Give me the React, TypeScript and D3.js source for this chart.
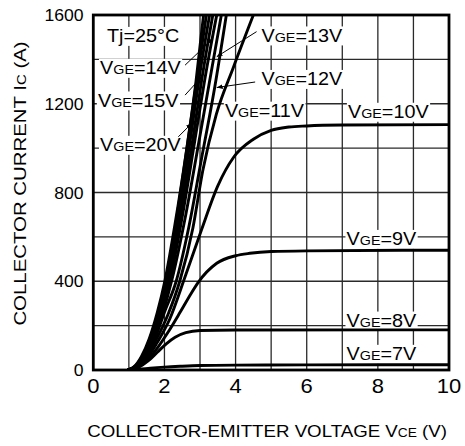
import React, { useEffect, useRef } from "react";
import * as d3 from "d3";

const W = 465;
const H = 446;

const xTicks = [0, 2, 4, 6, 8, 10];
const yTicks = [0, 400, 800, 1200, 1600];
const xGrid = [1, 2, 3, 4, 5, 6, 7, 8, 9];
const yGrid = [200, 400, 600, 800, 1000, 1200, 1400];

// [VCE (V), IC (A)]
const vge7 = [[0.97, 0], [1.3, 3], [1.6, 8], [2.0, 13], [2.5, 17], [3.0, 20], [4.0, 22], [6.0, 23], [10, 24]];
const vge8 = [[0.97, 0], [1.27, 12], [1.55, 42], [1.8, 80], [2.05, 118], [2.3, 148], [2.6, 168], [3.0, 178], [4.0, 180], [10, 181]];
const vge9 = [[0.97, 0], [1.25, 13], [1.55, 50], [1.85, 110], [2.1, 170], [2.44, 260], [2.75, 345], [2.95, 395], [3.47, 481], [4.0, 515], [4.4, 526], [5.0, 534], [6.0, 537], [10, 540]];
const vge10 = [[0.97, 0], [1.23, 14], [1.52, 55], [1.82, 130], [2.15, 230], [2.58, 420], [3.04, 631], [3.5, 830], [3.95, 960], [4.5, 1040], [5.0, 1080], [5.5, 1095], [6.0, 1100], [7.0, 1104], [10, 1106]];
const vge11 = [[0.97, 0], [1.22, 15], [1.5, 60], [1.78, 140], [2.1, 250], [2.43, 400], [2.8, 640], [3.08, 900], [3.46, 1153], [3.94, 1365], [4.5, 1600]];
const vge12 = [[0.97, 0], [1.21, 15], [1.47, 60], [1.73, 140], [2.0, 260], [2.33, 400], [2.68, 640], [3.04, 950], [3.42, 1280], [3.74, 1600]];
const vge13 = [[0.97, 0], [1.2, 15], [1.45, 60], [1.7, 140], [1.96, 260], [2.2, 400], [2.6, 700], [2.97, 1030], [3.4, 1420], [3.6, 1600]];
const vge14 = [[0.97, 0], [1.19, 15], [1.43, 60], [1.67, 140], [1.92, 260], [2.15, 400], [2.51, 700], [2.85, 1030], [3.2, 1370], [3.47, 1600]];
const vge15 = [[0.97, 0], [1.18, 15], [1.41, 60], [1.65, 140], [1.89, 260], [2.12, 400], [2.46, 700], [2.78, 1020], [3.05, 1310], [3.36, 1600]];
const vge16 = [[0.97, 0], [1.17, 15], [1.39, 60], [1.63, 140], [1.86, 260], [2.09, 400], [2.42, 710], [2.72, 1030], [2.99, 1330], [3.27, 1600]];
const vge18 = [[0.97, 0], [1.16, 15], [1.37, 60], [1.6, 140], [1.83, 260], [2.05, 400], [2.36, 700], [2.66, 1030], [2.92, 1320], [3.18, 1600]];
const vge20 = [[0.97, 0], [1.15, 15], [1.35, 60], [1.57, 140], [1.8, 260], [2.01, 400], [2.3, 660], [2.62, 990], [2.88, 1290], [3.1, 1600]];

const curves = [vge7, vge8, vge9, vge10, vge11, vge12, vge13, vge14, vge15, vge16, vge18, vge20];

// label text value, anchor in data units (left, baseline)
const labelNames = ["14", "15", "20", "13", "12", "11", "10", "9", "8", "7"];
const labelX = [0.19, 0.13, 0.19, 4.73, 4.73, 3.7, 7.16, 7.12, 7.12, 7.12];
const labelY = [1334, 1187, 987, 1480, 1284, 1141, 1136, 563, 195, 45];

// arrows: from (x1,y1) to (x2,y2) in data units
const arrowFrom = [[2.58, 1374], [2.58, 1239], [2.39, 1051], [4.59, 1525], [4.55, 1298]];
const arrowTo = [[3.37, 1495], [3.05, 1322], [2.77, 1112], [3.47, 1412], [3.47, 1273]];

const FONT = "'Liberation Sans', Arial, Helvetica, sans-serif";

export default function App() {
  const ref = useRef<SVGSVGElement>(null);

  useEffect(() => {
    const svg = d3.select(ref.current);
    svg.selectAll("*").remove();

    const x = d3.scaleLinear().domain([0, 10]).range([93.3, 449]);
    const y = d3.scaleLinear().domain([0, 1600]).range([370, 15]);

    svg.append("rect").attr("width", W).attr("height", H).attr("fill", "#fff");

    const defs = svg.append("defs");
    defs.append("clipPath").attr("id", "plotclip")
      .append("rect")
      .attr("x", x(0)).attr("y", y(1600))
      .attr("width", x(10) - x(0)).attr("height", y(0) - y(1600));
    defs.append("marker").attr("id", "arrowhead")
      .attr("viewBox", "0 0 10 10").attr("refX", 10).attr("refY", 5)
      .attr("markerWidth", 6).attr("markerHeight", 6)
      .attr("markerUnits", "userSpaceOnUse")
      .attr("orient", "auto")
      .append("path").attr("d", "M0,1 L10,5 L0,9 z").attr("fill", "#000");

    // grid
    const grid = svg.append("g").attr("stroke", "#2a2a2a").attr("stroke-width", 1.3);
    grid.selectAll("line.v").data(xGrid).enter().append("line")
      .attr("x1", (d) => x(d)).attr("x2", (d) => x(d))
      .attr("y1", y(0)).attr("y2", y(1600));
    grid.selectAll("line.h").data(yGrid).enter().append("line")
      .attr("x1", x(0)).attr("x2", x(10))
      .attr("y1", (d) => y(d)).attr("y2", (d) => y(d));

    const bgLayer = svg.append("g");
    const curveLayer = svg.append("g").attr("clip-path", "url(#plotclip)");
    const textLayer = svg.append("g");

    const line = d3.line<number[]>()
      .x((d) => x(d[0]))
      .y((d) => y(d[1]))
      .curve(d3.curveMonotoneX);

    curveLayer.selectAll("path").data(curves).enter().append("path")
      .attr("d", (d) => line(d as number[][]))
      .attr("fill", "none")
      .attr("stroke", "#000")
      .attr("stroke-width", 2.9)
      .attr("stroke-linejoin", "round");

    const addLabel = (px: number, py: number, build: (t: any) => void) => {
      const tr = `translate(${px},${py}) scale(1.1,1)`;
      const g = textLayer.append("g").attr("transform", tr);
      const t = g.append("text")
        .attr("font-family", FONT).attr("font-size", 18).attr("fill", "#000");
      build(t);
      const bb = (t.node() as SVGTextElement).getBBox();
      bgLayer.append("g").attr("transform", tr).append("rect")
        .attr("x", bb.x - 1).attr("y", bb.y + 1)
        .attr("width", bb.width + 2).attr("height", bb.height - 1)
        .attr("fill", "#fff");
    };

    // Tj label
    addLabel(x(0.385), y(1478), (t) => {
      t.append("tspan").text("Tj=25°C");
    });

    labelNames.forEach((v, i) => {
      addLabel(x(labelX[i]), y(labelY[i]), (t) => {
        t.append("tspan").text("V");
        t.append("tspan").attr("font-size", 13).text("GE");
        t.append("tspan").text(`=${v}V`);
      });
    });

    // arrows
    const arr = svg.append("g");
    arrowFrom.forEach((f, i) => {
      arr.append("line")
        .attr("x1", x(f[0])).attr("y1", y(f[1]))
        .attr("x2", x(arrowTo[i][0])).attr("y2", y(arrowTo[i][1]))
        .attr("stroke", "#000").attr("stroke-width", 1)
        .attr("marker-end", "url(#arrowhead)");
    });

    // frame
    svg.append("rect")
      .attr("x", x(0)).attr("y", y(1600))
      .attr("width", x(10) - x(0)).attr("height", y(0) - y(1600))
      .attr("fill", "none").attr("stroke", "#000").attr("stroke-width", 2.8);

    // x tick labels
    svg.append("g").selectAll("text").data(xTicks).enter().append("text")
      .attr("transform", (d) => `translate(${x(d)},393) scale(1.1,1)`)
      .attr("text-anchor", "middle")
      .attr("font-family", FONT).attr("font-size", 20)
      .text((d) => String(d));

    // y tick labels
    svg.append("g").selectAll("text").data(yTicks).enter().append("text")
      .attr("transform", (d) => `translate(83.5,${y(d) + 6}) scale(1.1,1)`)
      .attr("text-anchor", "end")
      .attr("font-family", FONT).attr("font-size", 16)
      .text((d) => String(d));

    // x title
    const xt = svg.append("text")
      .attr("transform", `translate(${(x(0) + x(10)) / 2 - 4},437) scale(1.1,1)`)
      .attr("text-anchor", "middle")
      .attr("font-family", FONT).attr("font-size", 17);
    xt.append("tspan").text("COLLECTOR-EMITTER VOLTAGE V");
    xt.append("tspan").attr("font-size", 12.5).text("CE");
    xt.append("tspan").text(" (V)");

    // y title
    const yt = svg.append("text")
      .attr("transform", `translate(26,${(y(0) + y(1600)) / 2 - 9}) rotate(-90) scale(1.2,1)`)
      .attr("text-anchor", "middle")
      .attr("font-family", FONT).attr("font-size", 17);
    yt.append("tspan").text("COLLECTOR CURRENT I");
    yt.append("tspan").attr("font-size", 12.5).text("C");
    yt.append("tspan").text(" (A)");
  }, []);

  return (
    <svg
      ref={ref}
      width={W}
      height={H}
      style={{ position: "absolute", left: 0, top: 0, display: "block" }}
    />
  );
}
